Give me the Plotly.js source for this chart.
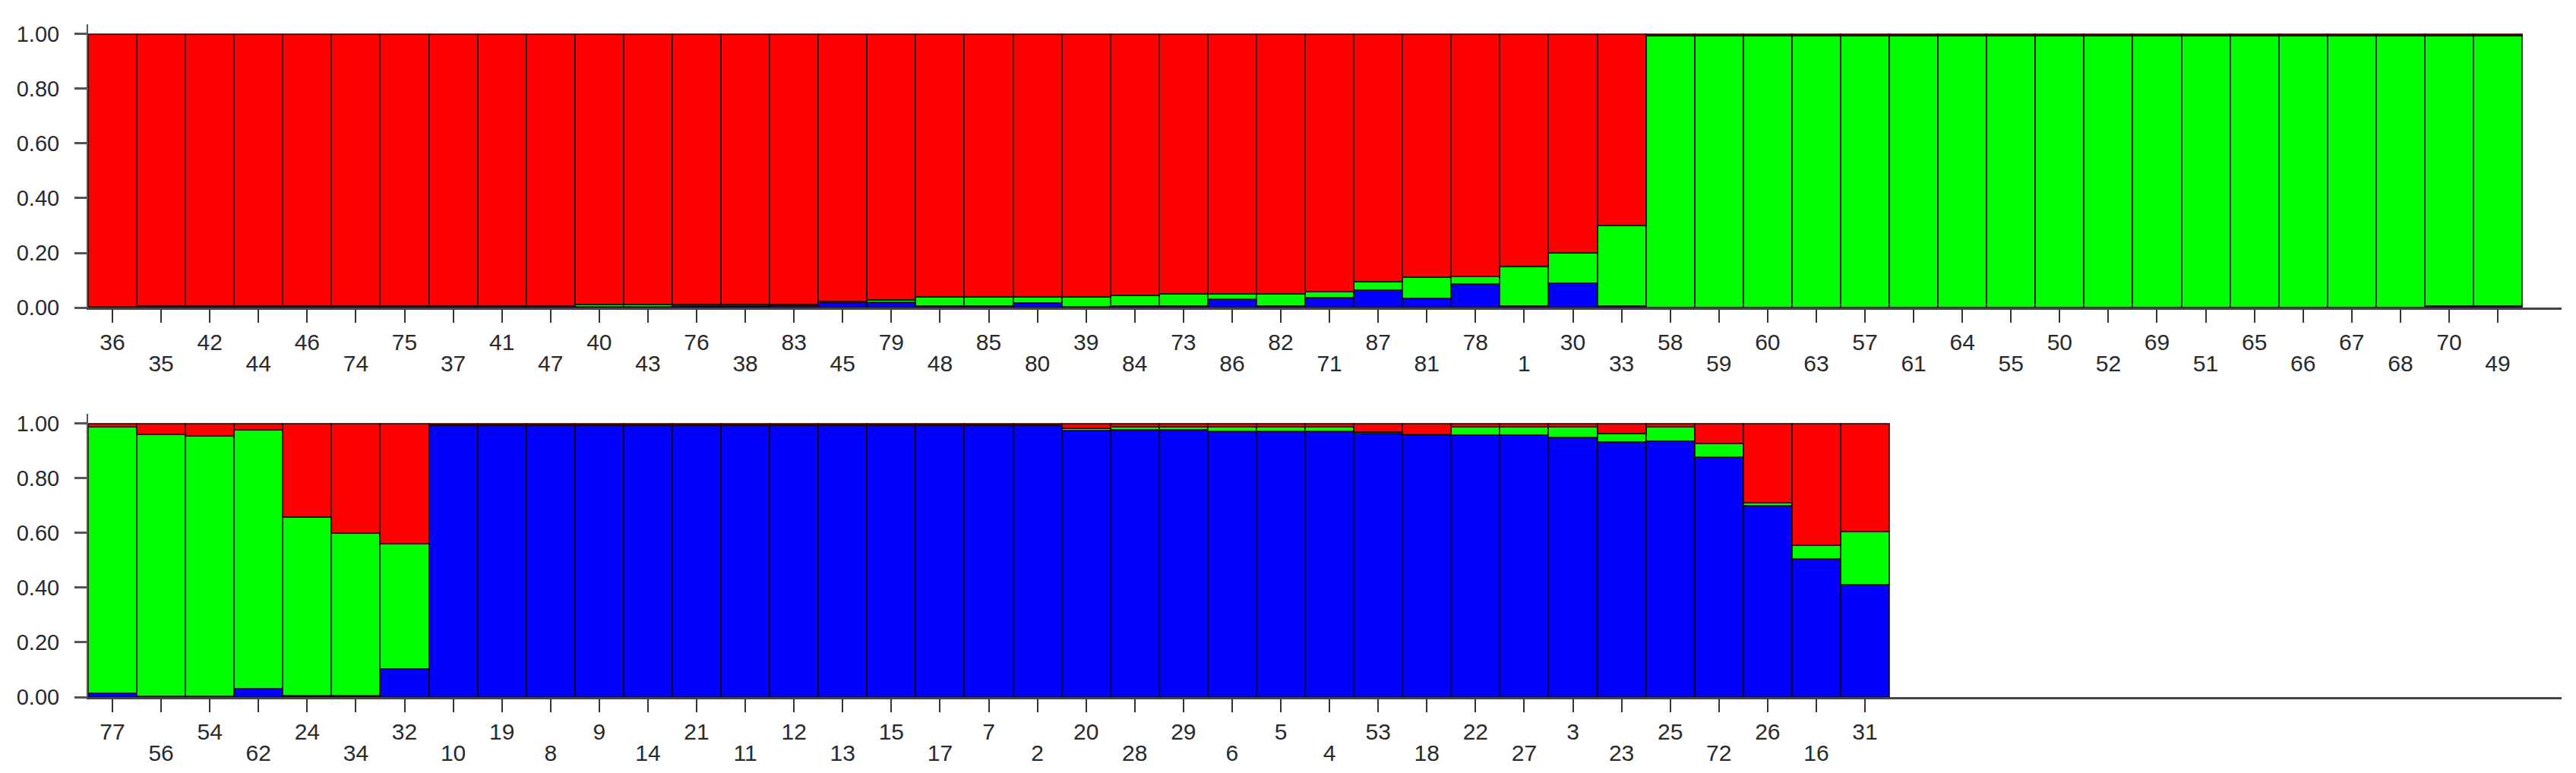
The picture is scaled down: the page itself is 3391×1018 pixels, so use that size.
<!DOCTYPE html>
<html>
<head>
<meta charset="utf-8">
<script src="https://cdn.plot.ly/plotly-3.0.1.min.js"></script>
<style>html,body{margin:0;padding:0;background:#fff;}#chart{width:3391px;height:1018px;}</style>
</head>
<body>
<div id="chart"></div>
<script>
// ---- Top panel ----
const topLabels = ["36","35","42","44","46","74","75","37","41","47","40","43","76","38","83","45","79","48","85","80","39","84","73","86","82","71","87","81","78","1","30","33","58","59","60","63","57","61","64","55","50","52","69","51","65","66","67","68","70","49"];
const topBlue  = [0.001,0.003,0.003,0.003,0.003,0.003,0.003,0.003,0.003,0.003,0.002,0.002,0.006,0.006,0.008,0.020,0.020,0.005,0.005,0.017,0.003,0.005,0.005,0.030,0.005,0.035,0.063,0.032,0.086,0.005,0.090,0.005,0.000,0.000,0.000,0.000,0.000,0.000,0.000,0.000,0.000,0.000,0.000,0.000,0.000,0.000,0.000,0.000,0.005,0.005];
const topGreen = [0.001,0.002,0.002,0.002,0.002,0.002,0.002,0.002,0.002,0.002,0.010,0.010,0.004,0.004,0.004,0.003,0.008,0.033,0.033,0.021,0.035,0.040,0.045,0.020,0.045,0.023,0.032,0.080,0.029,0.145,0.110,0.295,0.993,0.993,0.993,0.993,0.993,0.993,0.993,0.993,0.993,0.993,0.993,0.993,0.993,0.993,0.993,0.993,0.990,0.990];
const topRed   = [0.998,0.995,0.995,0.995,0.995,0.995,0.995,0.995,0.995,0.995,0.988,0.988,0.990,0.990,0.988,0.977,0.972,0.962,0.962,0.962,0.962,0.955,0.950,0.950,0.950,0.942,0.905,0.888,0.885,0.850,0.800,0.700,0.007,0.007,0.007,0.007,0.007,0.007,0.007,0.007,0.007,0.007,0.007,0.007,0.007,0.007,0.007,0.007,0.005,0.005];

// ---- Bottom panel ----
const botLabels = ["77","56","54","62","24","34","32","10","19","8","9","14","21","11","12","13","15","17","7","2","20","28","29","6","5","4","53","18","22","27","3","23","25","72","26","16","31"];
const botBlue  = [0.015,0.002,0.002,0.030,0.005,0.005,0.104,0.993,0.993,0.993,0.993,0.993,0.993,0.993,0.993,0.993,0.993,0.993,0.993,0.993,0.975,0.978,0.978,0.972,0.972,0.972,0.963,0.958,0.957,0.957,0.950,0.933,0.935,0.877,0.700,0.505,0.410];
const botGreen = [0.975,0.958,0.953,0.947,0.652,0.595,0.456,0.004,0.004,0.004,0.004,0.004,0.004,0.004,0.004,0.004,0.004,0.004,0.004,0.004,0.007,0.010,0.010,0.016,0.016,0.016,0.005,0.002,0.031,0.031,0.038,0.030,0.055,0.050,0.010,0.050,0.195];
const botRed   = [0.010,0.040,0.045,0.023,0.343,0.400,0.440,0.003,0.003,0.003,0.003,0.003,0.003,0.003,0.003,0.003,0.003,0.003,0.003,0.003,0.018,0.012,0.012,0.012,0.012,0.012,0.032,0.040,0.012,0.012,0.012,0.037,0.010,0.073,0.290,0.445,0.395];

const clusterColors = {blue:"#0000FF", green:"#00FF00", red:"#FF0000"};
const yTicks = [0, 0.2, 0.4, 0.6, 0.8, 1.0];
const yTickText = ["0.00","0.20","0.40","0.60","0.80","1.00"];

function idx(arr){ return arr.map((_, i) => i); }
function evenText(labels){ return labels.map((l, i) => i % 2 === 0 ? l : ""); }
function oddText(labels){ return labels.map((l, i) => i % 2 === 1 ? l : ""); }

const lineStyle = {color: "rgba(20,0,0,0.75)", width: 2};
function barTrace(x, y, color, xa, ya){
  return {type: "bar", x: x, y: y, xaxis: xa, yaxis: ya,
          marker: {color: color, line: lineStyle},
          width: 1, hoverinfo: "skip", showlegend: false};
}

const xt = idx(topLabels), xb = idx(botLabels);
const data = [
  barTrace(xt, topBlue, clusterColors.blue, "x", "y"),
  barTrace(xt, topGreen, clusterColors.green, "x", "y"),
  barTrace(xt, topRed, clusterColors.red, "x", "y"),
  barTrace(xb, botBlue, clusterColors.blue, "x2", "y2"),
  barTrace(xb, botGreen, clusterColors.green, "x2", "y2"),
  barTrace(xb, botRed, clusterColors.red, "x2", "y2"),
  // invisible carriers for the second label row axes
  {type: "scatter", x: [0], y: [0], xaxis: "x3", yaxis: "y", mode: "markers", marker: {opacity: 0}, hoverinfo: "skip", showlegend: false},
  {type: "scatter", x: [0], y: [0], xaxis: "x4", yaxis: "y2", mode: "markers", marker: {opacity: 0}, hoverinfo: "skip", showlegend: false}
];

const font = {family: "Arial, 'Liberation Sans', sans-serif", size: 30, color: "#2a2a2a"};
const xRange = [-0.5, 50.31];
function xMain(labels, anchor){
  return {anchor: anchor, range: xRange, tickmode: "array", tickvals: idx(labels), ticktext: evenText(labels),
          ticks: "outside", ticklen: 17, tickwidth: 2, tickcolor: "#333",
          showline: true, linecolor: "#444", linewidth: 3, showgrid: false, zeroline: false,
          tickfont: font, fixedrange: true};
}
function xSecond(labels, over, anchor){
  return {overlaying: over, anchor: anchor, side: "bottom", range: xRange, tickmode: "array",
          tickvals: idx(labels), ticktext: oddText(labels),
          ticks: "outside", ticklen: 17, tickwidth: 0, tickcolor: "rgba(0,0,0,0)",
          ticklabelstandoff: 30, showline: false, showgrid: false, zeroline: false,
          tickfont: font, fixedrange: true};
}
function yAx(domain){
  return {domain: domain, range: [0, 1.036], tickmode: "array", tickvals: yTicks, ticktext: yTickText,
          ticks: "outside", ticklen: 16, tickwidth: 3, tickcolor: "#555",
          ticklabelstandoff: 14,
          showline: true, linecolor: "#555", linewidth: 2, showgrid: false, zeroline: false,
          tickfont: {family: font.family, size: 29, color: "#2a2a2a"}, fixedrange: true};
}

const layout = {
  width: 3391, height: 1018,
  margin: {l: 116, r: 19, t: 32, b: 100, pad: 0},
  paper_bgcolor: "#ffffff", plot_bgcolor: "#ffffff",
  barmode: "stack", bargap: 0,
  showlegend: false,
  xaxis: xMain(topLabels, "y"),
  xaxis2: xMain(botLabels, "y2"),
  xaxis3: xSecond(topLabels, "x", "y"),
  xaxis4: xSecond(botLabels, "x2", "y2"),
  yaxis: yAx([0.579, 1]),
  yaxis2: yAx([0, 0.421])
};

Plotly.newPlot("chart", data, layout, {displayModeBar: false, staticPlot: true});
</script>
</body>
</html>
